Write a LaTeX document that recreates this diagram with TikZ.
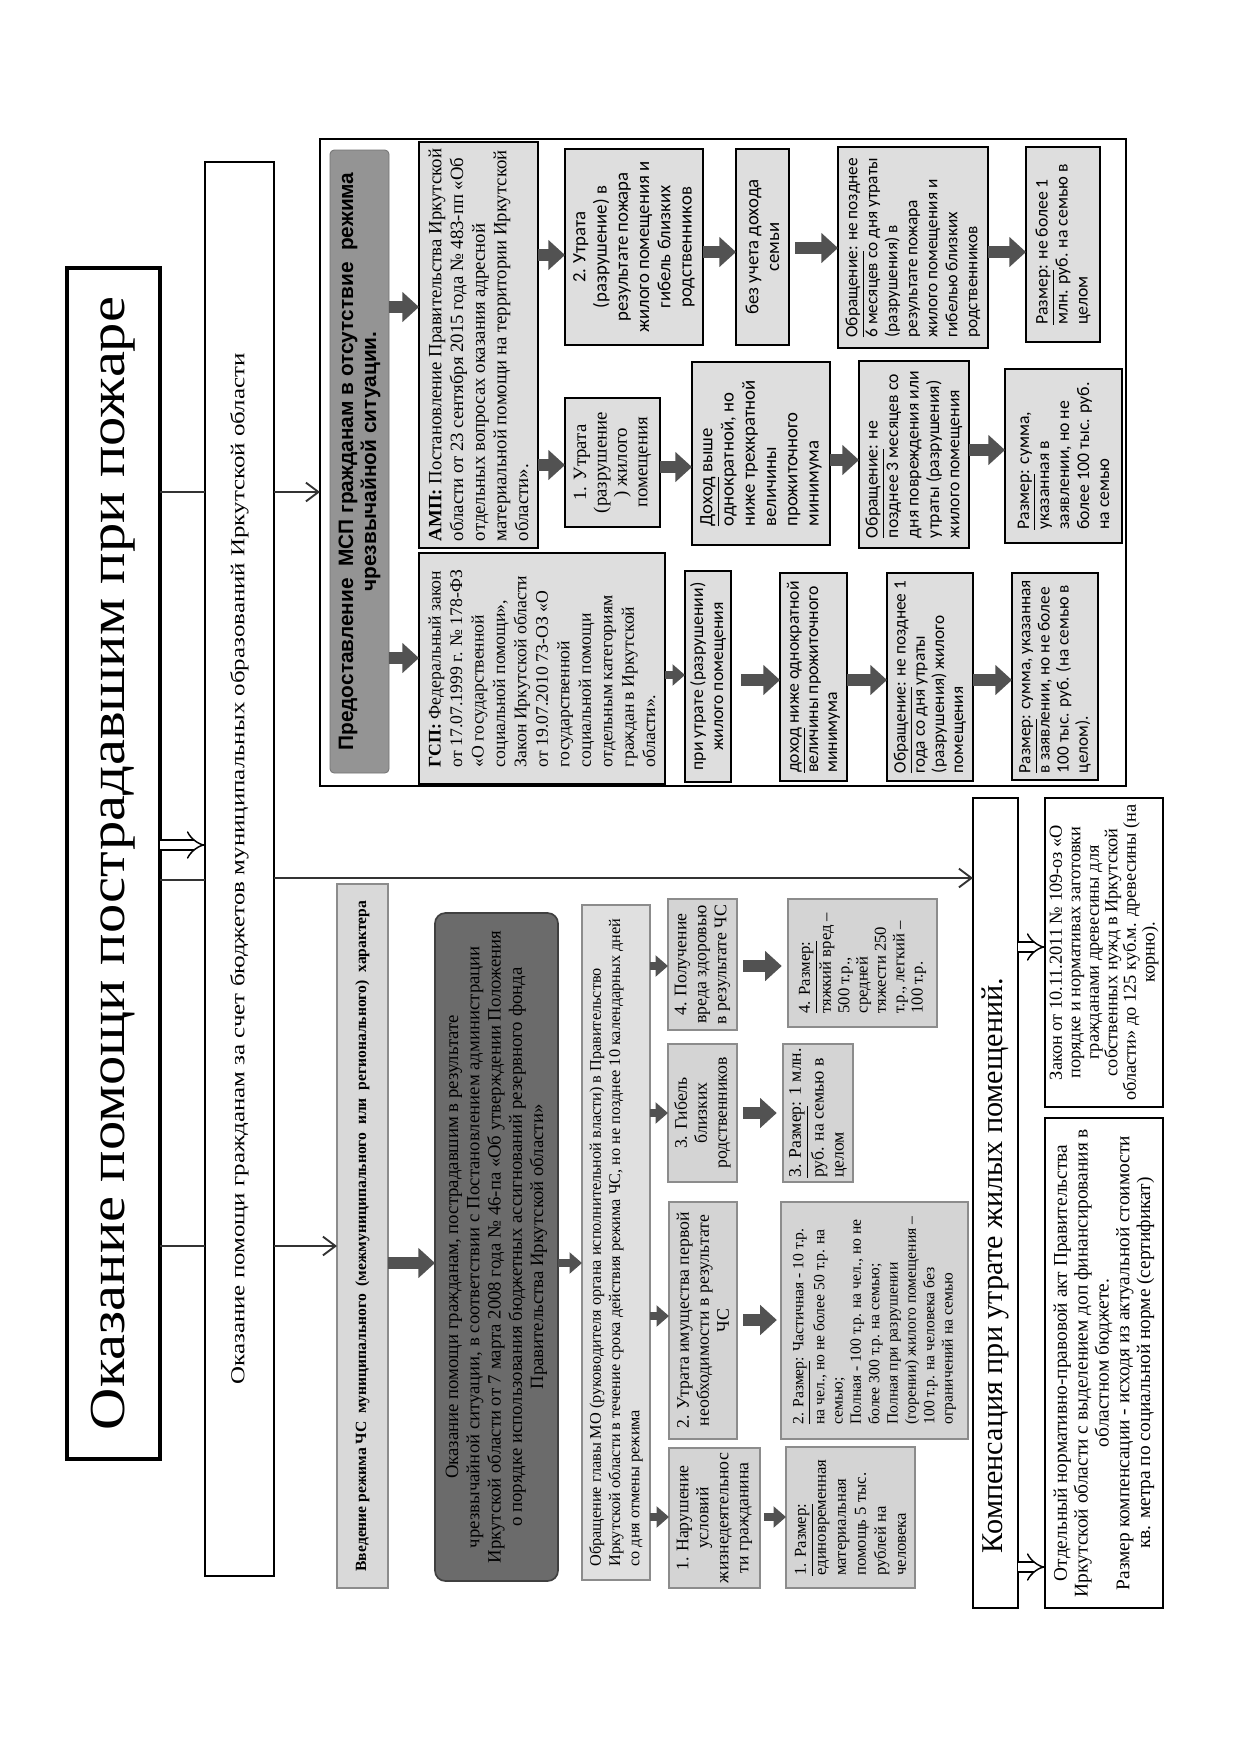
\documentclass[tikz,border=0pt]{standalone}
\usepackage{graphicx}
\usepackage{fontspec}
\setmainfont{Liberation Serif}
\newfontfamily\hsans{Liberation Sans}
\newfontfamily\csans{Carlito}
\usetikzlibrary{arrows.meta}
\newcommand\myfs[2]{\fontsize{#1}{#2}\selectfont}
\newcommand\mybox[7]{%
  \pgfmathsetmacro\myW{(#6-#4)*0.48}%
  \pgfmathsetmacro\myH{(#5-#3)*0.48}%
  \node[#1, rotate=90, minimum width=\myW pt, minimum height=\myH pt] (#2) at ({(#3+#5)/2},{(#4+#6)/2}) {#7};}
\tikzset{
 base/.style={inner sep=2pt, outer sep=0pt},
 gbox/.style={base, draw=black, line width=1.1pt, fill=black!13},
 hdr/.style={base, draw=black!55, fill=black!42, rounded corners=2pt, align=center},
 wbox/.style={base, draw=black, line width=1pt, fill=white},
 sbox/.style={base, draw=black!45, line width=0.6pt, fill=black!17},
 dbox/.style={base, draw=black!75, line width=0.8pt, fill=black!58, rounded corners=5pt, align=center},
 barrow/.style={draw=black!68, line width=5.5pt, -{Triangle[width=14pt,length=8pt]}},
 sarrow/.style={draw=black!68, line width=3.5pt, -{Triangle[width=10pt,length=6pt]}},
 tarrow/.style={draw=black!80, line width=0.9pt, -{Straight Barb[length=6pt,width=9pt]}},
 harrow/.style={draw=black, line width=0.7pt, double=white, double distance=4pt, -{Implies}},
 pline/.style={draw=black!80, line width=0.9pt},
}
\begin{document}
\begin{tikzpicture}[x=0.48pt, y=-0.48pt]
\useasboundingbox (0,0) rectangle (1240,1754);
\fill[white] (0,0) rectangle (1240,1754);

% top level
\mybox{wbox, line width=1.5pt}{T}{67}{268}{160}{1459}{\resizebox{544pt}{16pt}{\myfs{28}{30}Оказание помощи пострадавшим при пожаре}}
\mybox{wbox, line width=1.2pt}{S}{205}{162}{274}{1576}{\resizebox{495pt}{6.8pt}{\myfs{10}{12}Оказание помощи гражданам за счет бюджетов муниципальных образований Иркутской области}}

% MSP frame
\mybox{base, draw=black, line width=0.9pt}{MSP}{320}{139}{1126}{786}{}
\mybox{hdr, font={\hsans\bfseries\myfs{10}{11}}}{HDR}{330}{150}{389}{773}{Предоставление\ \ МСП гражданам в отсутствие\ \ режима\\чрезвычайной ситуации.}
\mybox{gbox, align=left, font={\myfs{8.5}{10.3}}}{GSP}{419}{553}{665}{784}{\textbf{ГСП:} Федеральный закон\\от 17.07.1999 г. № 178-ФЗ\\«О государственной\\социальной помощи»,\\Закон Иркутской области\\от 19.07.2010 73-ОЗ «О\\государственной\\социальной помощи\\отдельным категориям\\граждан в Иркутской\\области».}
\mybox{gbox, align=left, font={\myfs{9}{10.4}}}{AMP}{419}{142}{538}{548}{\textbf{АМП:} Постановление Правительства Иркутской\\области от 23 сентября 2015 года № 483-пп «Об\\отдельных вопросах оказания адресной\\материальной помощи на территории Иркутской\\области».}
\mybox{gbox, align=center, font={\csans\myfs{9}{10.2}}}{A2}{565}{149}{703}{345}{2. Утрата\\(разрушение) в\\результате пожара\\жилого помещения и\\гибель близких\\родственников}
\mybox{gbox, align=center, font={\myfs{9}{9.8}}}{A1}{565}{398}{660}{527}{1. Утрата\\(разрушение\\) жилого\\помещения}
\mybox{gbox, align=left, font={\csans\myfs{9}{10.2}}}{DOH}{692}{362}{830}{545}{\underline{Доход} выше\\однократной, но\\ниже трехкратной\\величины\\прожиточного\\минимума}
\mybox{gbox, align=center, font={\csans\myfs{9}{10}}}{BEZ}{736}{149}{789}{345}{без учета дохода\\семьи}
\mybox{gbox, align=left, font={\csans\myfs{8.3}{9.6}}}{OBR6}{838}{147}{988}{348}{\underline{Обращение}: не позднее\\6 месяцев со дня утраты\\(разрушения) в\\результате пожара\\жилого помещения и\\гибелью близких\\родственников}
\mybox{gbox, align=left, font={\csans\myfs{8.5}{9.6}}}{RAZ1M}{1026}{147}{1100}{342}{\underline{Размер}: не более 1\\млн. руб. на семью в\\целом}
\mybox{gbox, align=left, font={\csans\myfs{8.5}{9.8}}}{OBR3}{859}{361}{969}{548}{\underline{Обращение}: не\\позднее 3 месяцев со\\дня повреждения или\\утраты (разрушения)\\жилого помещения}
\mybox{gbox, align=left, font={\csans\myfs{8.5}{9.6}}}{RAZ100}{1005}{369}{1122}{543}{\underline{Размер}: сумма,\\указанная в\\заявлении, но не\\более 100 тыс. руб.\\на семью}
\mybox{gbox, align=center, font={\csans\myfs{8.5}{9.6}}}{PRI}{685}{571}{731}{782}{при утрате (разрушении)\\жилого помещения}
\mybox{gbox, align=left, font={\csans\myfs{8.5}{9.2}}}{DNIZ}{780}{573}{847}{781}{\underline{доход} ниже однократной\\величины прожиточного\\минимума}
\mybox{gbox, align=left, font={\csans\myfs{8.3}{9.2}}}{OBR1}{887}{573}{973}{781}{\underline{Обращение}: не позднее 1\\года со дня утраты\\(разрушения) жилого\\помещения}
\mybox{gbox, align=left, font={\csans\myfs{8.3}{9.2}}}{RAZG}{1012}{573}{1098}{780}{\underline{Размер}: сумма, указанная\\в заявлении, но не более\\100 тыс. руб. (на семью в\\целом).}

% MSP arrows
\draw[barrow] (HDR.south |- 0,307) -- (AMP.north |- 0,307);
\draw[barrow] (HDR.south |- 0,658) -- (GSP.north |- 0,658);
\draw[barrow] (AMP.south |- 0,255) -- (A2.north |- 0,255);
\draw[barrow] (AMP.south |- 0,465) -- (A1.north |- 0,465);
\draw[barrow] (A1.south |- 0,467) -- (DOH.north |- 0,467);
\draw[barrow] (A2.south |- 0,252) -- (BEZ.north |- 0,252);
\draw[barrow, shorten <=3pt] (BEZ.south |- 0,248) -- (OBR6.north |- 0,248);
\draw[barrow] (OBR6.south |- 0,252) -- (RAZ1M.north |- 0,252);
\draw[barrow] (DOH.south |- 0,460) -- (OBR3.north |- 0,460);
\draw[barrow] (OBR3.south |- 0,450) -- (RAZ100.north |- 0,450);
\draw[sarrow] (GSP.south |- 0,675) -- (PRI.north |- 0,675);
\draw[barrow, shorten <=5pt] (PRI.south |- 0,680) -- (DNIZ.north |- 0,680);
\draw[barrow] (DNIZ.south |- 0,680) -- (OBR1.north |- 0,680);
\draw[barrow] (OBR1.south |- 0,680) -- (RAZG.north |- 0,680);

% lower-left block
\mybox{base, draw=black!45, line width=0.6pt, fill=black!15}{VV}{337}{884}{388}{1588}{\resizebox{322pt}{!}{\bfseries\myfs{8}{9}Введение режима ЧС\ \ муниципального\ \ (межмуниципального\ \ или\ \ регионального)\ \ характера}}
\mybox{dbox, font={\myfs{9}{10.2}}}{DARK}{435}{913}{558}{1581}{Оказание помощи гражданам, пострадавшим в результате\\чрезвычайной ситуации, в соответствии с Постановлением администрации\\Иркутской области от 7 марта 2008 года № 46-па «Об утверждении Положения\\о порядке использования бюджетных ассигнований резервного фонда\\Правительства Иркутской области»}
\mybox{sbox, fill=black!12, align=left, font={\myfs{7.8}{9.2}}}{OGM}{582}{905}{650}{1580}{Обращение главы МО (руководителя органа исполнительной власти) в Правительство\\Иркутской области в течение срока действия режима ЧС, но не позднее 10 календарных дней\\со дня отмены режима}
\mybox{sbox, align=center, font={\myfs{8.5}{9.6}}}{N1}{669}{1448}{760}{1588}{1. Нарушение\\условий\\жизнедеятельнос\\ти гражданина}
\mybox{sbox, align=center, font={\myfs{8.5}{9.6}}}{N2}{669}{1202}{737}{1439}{2. Утрата имущества первой\\необходимости в результате\\ЧС}
\mybox{sbox, align=center, font={\myfs{8.5}{9.6}}}{N3}{668}{1044}{737}{1182}{3. Гибель\\близких\\родственников}
\mybox{sbox, align=center, font={\myfs{8.5}{9.6}}}{N4}{668}{899}{737}{1030}{4. Получение\\вреда здоровью\\в результате ЧС}
\mybox{sbox, align=left, font={\myfs{8}{9.6}}}{R1}{786}{1447}{915}{1588}{\underline{1. Размер:}\\единовременная\\материальная\\помощь 5 тыс.\\рублей на\\человека}
\mybox{sbox, align=left, font={\myfs{7.5}{8.8}}}{R2}{781}{1202}{968}{1439}{\underline{2. Размер}: Частичная - 10 т.р.\\на чел., но не более 50 т.р. на\\семью;\\Полная - 100 т.р. на чел., но не\\более 300 т.р. на семью;\\Полная при разрушении\\(горении) жилого помещения –\\100 т.р. на человека без\\ограничений на семью}
\mybox{sbox, align=left, font={\myfs{8.5}{9.6}}}{R3}{783}{1044}{853}{1182}{\underline{3. Размер}: 1 млн.\\руб. на семью в\\целом}
\mybox{sbox, align=left, font={\myfs{8}{8.8}}}{R4}{788}{899}{937}{1027}{\underline{4. Размер:}\\тяжкий вред –\\500 т.р.,\\средней\\тяжести 250\\т.р., легкий –\\100 т.р.}

\draw[barrow] (VV.south |- 0,1263) -- (DARK.north |- 0,1263);
\draw[sarrow] (DARK.south |- 0,1263) -- (OGM.north |- 0,1263);
\draw[sarrow] (OGM.south |- 0,1517) -- (N1.north |- 0,1517);
\draw[sarrow] (OGM.south |- 0,1316) -- (N2.north |- 0,1316);
\draw[sarrow] (OGM.south |- 0,1113) -- (N3.north |- 0,1113);
\draw[sarrow] (OGM.south |- 0,966) -- (N4.north |- 0,966);
\draw[sarrow, shorten <=2pt] (N1.south |- 0,1517) -- (R1.north |- 0,1517);
\draw[barrow, shorten <=3pt, shorten >=2pt] (N2.south |- 0,1320) -- (R2.north |- 0,1320);
\draw[barrow, shorten <=3pt, shorten >=3pt] (N3.south |- 0,1113) -- (R3.north |- 0,1113);
\draw[barrow, shorten <=3pt, shorten >=3pt] (N4.south |- 0,966) -- (R4.north |- 0,966);

% compensation
\mybox{wbox, line width=1.2pt}{KOMP}{973}{798}{1018}{1608}{\resizebox{276pt}{!}{\myfs{12}{14}Компенсация при утрате жилых помещений.}\hspace*{60pt}}
\mybox{wbox, line width=1.2pt, align=center, font={\myfs{8.8}{8.9}}}{ZAK}{1045}{798}{1163}{1107}{Закон от 10.11.2011 № 109-оз «О\\порядке и нормативах заготовки\\гражданами древесины для\\собственных нужд в Иркутской\\области» до 125 куб.м. древесины (на\\корню).}
\mybox{wbox, line width=1.2pt, align=center, font={\myfs{9.3}{10}}}{OTD}{1045}{1118}{1163}{1608}{Отдельный нормативно-правовой акт Правительства\\Иркутской области с выделением доп финансирования в\\областном бюджете.\\Размер компенсации - исходя из актуальной стоимости\\кв. метра по социальной норме (сертификат)}

% top-level connectors
\draw[pline] (T.south |- 0,492) -- (S.north |- 0,492);
\draw[pline] (T.south |- 0,880) -- (S.north |- 0,880);
\draw[pline] (T.south |- 0,1246) -- (S.north |- 0,1246);
\draw[harrow] (T.south |- 0,845) -- (S.north |- 0,845);
\draw[tarrow] (S.south |- 0,492) -- (MSP.north |- 0,492);
\draw[tarrow] (S.south |- 0,878) -- (KOMP.north |- 0,878);
\draw[tarrow] (S.south |- 0,1246) -- (VV.north |- 0,1246);
\draw[harrow] (KOMP.south |- 0,947) -- (ZAK.north |- 0,947);
\draw[harrow] (KOMP.south |- 0,1567) -- (OTD.north |- 0,1567);
\end{tikzpicture}
\end{document}
